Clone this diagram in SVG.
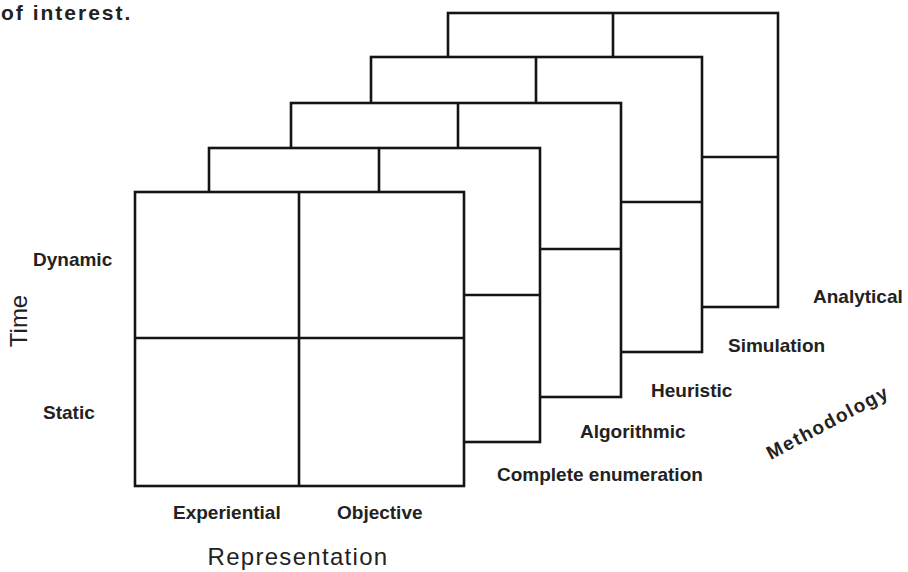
<svg xmlns="http://www.w3.org/2000/svg" width="908" height="572" viewBox="0 0 908 572">
<style>
  .frame { fill: #ffffff; stroke: #141414; stroke-width: 2.6; stroke-linejoin: miter; }
  .div { fill: none; stroke: #141414; stroke-width: 2.6; }
  .lbl { font-family: "Liberation Sans", Arial, sans-serif; font-weight: bold; font-size: 19px; fill: #222222; }
  .axis { font-family: "Liberation Sans", Arial, sans-serif; font-size: 24px; fill: #222222; }
</style>
<rect width="908" height="572" fill="#ffffff"/>
<text x="1" y="20" font-family="Liberation Sans, Arial, sans-serif" font-weight="bold" font-size="21" letter-spacing="2" fill="#222222">of interest.</text>

<g id="layer-analytical">
  <rect class="frame" x="448" y="13" width="330" height="294"/>
  <path class="div" d="M613 13 V307 M448 157 H778"/>
</g>
<g id="layer-simulation">
  <rect class="frame" x="371" y="57" width="331" height="295"/>
  <path class="div" d="M536 57 V352 M371 202 H702"/>
</g>
<g id="layer-heuristic">
  <rect class="frame" x="291" y="103" width="330" height="294"/>
  <path class="div" d="M458 103 V397 M291 249 H621"/>
</g>
<g id="layer-algorithmic">
  <rect class="frame" x="209" y="148" width="331" height="294"/>
  <path class="div" d="M379 148 V442 M209 295 H540"/>
</g>
<g id="layer-complete-enumeration">
  <rect class="frame" x="135" y="192" width="329" height="294"/>
  <path class="div" d="M299 192 V486 M135 338 H464"/>
</g>

<g id="labels">
  <text class="lbl" x="33" y="266">Dynamic</text>
  <text class="lbl" x="43" y="419">Static</text>
  <text class="axis" transform="translate(27,321) rotate(-90)" text-anchor="middle">Time</text>
  <text class="lbl" x="173" y="519">Experiential</text>
  <text class="lbl" x="337" y="519">Objective</text>
  <text class="axis" x="298" y="565" font-size="25" letter-spacing="1.3" text-anchor="middle">Representation</text>
  <text class="lbl" x="497" y="481">Complete enumeration</text>
  <text class="lbl" x="580" y="438">Algorithmic</text>
  <text class="lbl" x="651" y="397">Heuristic</text>
  <text class="lbl" x="728" y="352">Simulation</text>
  <text class="lbl" x="813" y="303">Analytical</text>
  <text class="lbl" transform="translate(827,421) rotate(-28)" x="0" y="8" font-size="23" letter-spacing="1.6" text-anchor="middle">Methodology</text>
</g>
</svg>
